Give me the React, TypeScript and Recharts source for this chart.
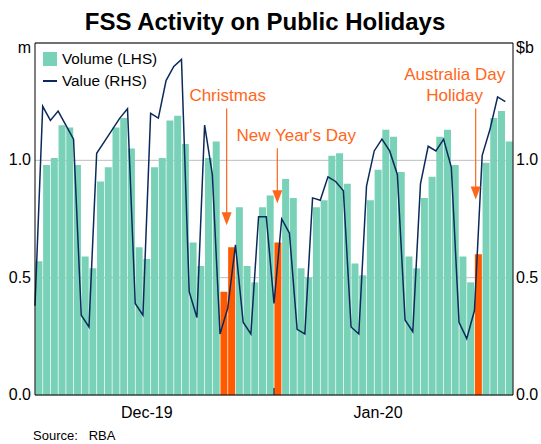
import {
  ComposedChart,
  Bar,
  Cell,
  Line,
  XAxis,
  YAxis,
  CartesianGrid,
  ReferenceLine,
} from 'recharts'

const DAYS = [
  '01-Dec', '02-Dec', '03-Dec', '04-Dec', '05-Dec', '06-Dec', '07-Dec', '08-Dec', '09-Dec', '10-Dec',
  '11-Dec', '12-Dec', '13-Dec', '14-Dec', '15-Dec', '16-Dec', '17-Dec', '18-Dec', '19-Dec', '20-Dec',
  '21-Dec', '22-Dec', '23-Dec', '24-Dec', '25-Dec', '26-Dec', '27-Dec', '28-Dec', '29-Dec', '30-Dec',
  '31-Dec', '01-Jan', '02-Jan', '03-Jan', '04-Jan', '05-Jan', '06-Jan', '07-Jan', '08-Jan', '09-Jan',
  '10-Jan', '11-Jan', '12-Jan', '13-Jan', '14-Jan', '15-Jan', '16-Jan', '17-Jan', '18-Jan', '19-Jan',
  '20-Jan', '21-Jan', '22-Jan', '23-Jan', '24-Jan', '25-Jan', '26-Jan', '27-Jan', '28-Jan', '29-Jan',
  '30-Jan', '31-Jan',
]

// volume, millions (LHS)
const VOLUME = [
  0.57, 0.98, 1.01, 1.15, 1.14, 0.98, 0.59, 0.54, 0.91, 0.97,
  1.14, 1.18, 1.05, 0.63, 0.58, 0.97, 1.01, 1.17, 1.19, 1.07,
  0.65, 0.55, 1.01, 1.08, 0.44, 0.63, 0.8, 0.55, 0.48, 0.8,
  0.85, 0.65, 0.92, 0.84, 0.54, 0.5, 0.8, 0.83, 1.02, 1.03,
  0.9, 0.56, 0.51, 0.83, 0.96, 1.13, 1.1, 0.95, 0.59, 0.54,
  0.84, 0.93, 1.1, 1.13, 0.98, 0.59, 0.48, 0.6, 0.99, 1.18,
  1.21, 1.08,
]

// value, $ billions (RHS)
const VALUE = [
  0.38, 1.23, 1.17, 1.21, 1.15, 1.09, 0.34, 0.29, 1.03, 1.08,
  1.13, 1.18, 1.22, 0.39, 0.34, 1.2, 1.18, 1.34, 1.4, 1.43,
  0.44, 0.33, 1.15, 0.94, 0.26, 0.37, 0.64, 0.31, 0.26, 0.76,
  0.76, 0.39, 0.75, 0.69, 0.28, 0.26, 0.84, 0.83, 0.93, 0.91,
  0.87, 0.29, 0.26, 0.89, 1.04, 1.09, 1.04, 0.94, 0.32, 0.27,
  0.9, 1.06, 1.04, 1.09, 0.97, 0.31, 0.24, 0.36, 1.02, 1.13,
  1.27, 1.25,
]

const HOLIDAYS = ['25-Dec', '26-Dec', '01-Jan', '27-Jan']

const MONTH_LABELS: Record<string, string> = {
  '15-Dec': 'Dec-19',
  '14-Jan': 'Jan-20',
}

const Y_TICKS = [0, 0.5, 1.0, 1.5]

const ANNOTATIONS = [
  { x: 24.86, top: 1.221, tip: 0.723, dx: 1, lines: ['Christmas'] },
  { x: 31.43, top: 1.051, tip: 0.817, dx: 19, lines: ["New Year's Day"] },
  { x: 57.16, top: 1.221, tip: 0.833, dx: -21, lines: ['Australia Day', 'Holiday'] },
]

const TEAL = '#79d2b8'
const HOLIDAY_ORANGE = '#ff5a00'
const TEXT_ORANGE = '#ff661a'
const NAVY = '#0b2a5b'
const FONT = '"Liberation Sans", Arial, sans-serif'

const data = DAYS.map((day, i) => ({
  day,
  idx: i,
  volume: VOLUME[i],
  value: VALUE[i],
}))

const yTick = (side: 'left' | 'right') => (props: any) => {
  const { x, y, payload } = props
  const v = payload.value as number
  let label = v.toFixed(1)
  if (v === 1.5) label = side === 'left' ? 'm' : '$b'
  return (
    <text
      x={x}
      y={y}
      dy={v === 1.5 ? 10 : 5}
      textAnchor={side === 'left' ? 'end' : 'start'}
      fontSize={16}
      fontFamily={FONT}
      fill="#000"
    >
      {label}
    </text>
  )
}

const xTick = (props: any) => {
  const { x, y, payload } = props
  const label = MONTH_LABELS[payload.value]
  if (!label) return <g />
  return (
    <text x={x} y={y} dy={15} textAnchor="middle" fontSize={16} fontFamily={FONT} fill="#000">
      {label}
    </text>
  )
}

const arrowShape = (lines: string[], dx: number) => (props: any) => {
  const { x1, y1, x2, y2 } = props
  const top = Math.min(y1, y2)
  const tip = Math.max(y1, y2)
  const headH = 13
  return (
    <g>
      <line x1={x1} y1={top} x2={x2} y2={tip - headH + 1} stroke={TEXT_ORANGE} strokeWidth={1.2} />
      <polygon
        points={`${x2 - 5},${tip - headH} ${x2 + 5},${tip - headH} ${x2},${tip}`}
        fill={TEXT_ORANGE}
      />
      {lines.map((t, i) => (
        <text
          key={t}
          x={x1 + dx}
          y={top - 7 - (lines.length - 1 - i) * 21}
          textAnchor="middle"
          fontSize={17}
          fontFamily={FONT}
          fill={TEXT_ORANGE}
        >
          {t}
        </text>
      ))}
    </g>
  )
}

const LegendBox = () => (
  <div
    style={{
      position: 'absolute',
      top: 48,
      left: 43,
      fontFamily: FONT,
      fontSize: 15.3,
      color: '#000',
      lineHeight: '22px',
    }}
  >
    <div style={{ display: 'flex', alignItems: 'center' }}>
      <span style={{ width: 14, height: 14, background: TEAL, marginRight: 5 }} />
      Volume (LHS)
    </div>
    <div style={{ display: 'flex', alignItems: 'center' }}>
      <span style={{ width: 14, height: 2, background: NAVY, marginRight: 5 }} />
      Value (RHS)
    </div>
  </div>
)

export default function App() {
  return (
    <div style={{ position: 'absolute', left: 0, top: 0, width: 541, height: 444, background: '#fff' }}>
      <div
        style={{
          position: 'absolute',
          top: 8,
          left: 0,
          width: 530,
          textAlign: 'center',
          fontFamily: FONT,
          fontWeight: 'bold',
          fontSize: 24,
        }}
      >
        FSS Activity on Public Holidays
      </div>
      <ComposedChart
        width={541}
        height={444}
        data={data}
        margin={{ top: 43, right: 0, left: 0, bottom: 19 }}
        barCategoryGap={0.4}
      >
        <CartesianGrid
          xAxisId="cat"
          yAxisId="l"
          vertical={false}
          stroke="#bfbfbf"
          strokeWidth={1}
        />
        <XAxis
          xAxisId="cat"
          dataKey="day"
          type="category"
          interval={0}
          tick={xTick}
          tickLine={false}
          axisLine={{ stroke: '#000' }}
          height={30}
        />
        <XAxis xAxisId="n" dataKey="idx" type="number" domain={[0, 62]} hide />
        <YAxis
          yAxisId="l"
          domain={[0, 1.5]}
          ticks={Y_TICKS}
          tick={yTick('left')}
          tickLine={false}
          tickSize={2}
          tickMargin={2}
          axisLine={{ stroke: '#000' }}
          width={35}
        />
        <YAxis
          yAxisId="r"
          orientation="right"
          domain={[0, 1.5]}
          ticks={Y_TICKS}
          tick={yTick('right')}
          tickLine={false}
          tickSize={1}
          tickMargin={2}
          axisLine={{ stroke: '#000' }}
          width={28}
        />
        <Bar xAxisId="cat" yAxisId="l" dataKey="volume" isAnimationActive={false}>
          {data.map((d) => (
            <Cell key={d.day} fill={HOLIDAYS.includes(d.day) ? HOLIDAY_ORANGE : TEAL} />
          ))}
        </Bar>
        <Line
          xAxisId="n"
          yAxisId="r"
          dataKey="value"
          type="linear"
          stroke={NAVY}
          strokeWidth={1.5}
          dot={false}
          activeDot={false}
          isAnimationActive={false}
        />
        <ReferenceLine xAxisId="cat" yAxisId="l" y={1.5} stroke="#000" />
        <ReferenceLine
          xAxisId="n"
          yAxisId="l"
          segment={[{ x: 31, y: 0 }, { x: 31, y: 0.03 }]}
          stroke="#000"
        />
        {ANNOTATIONS.map((a) => (
          <ReferenceLine
            key={a.lines[0]}
            xAxisId="n"
            yAxisId="l"
            segment={[{ x: a.x, y: a.top }, { x: a.x, y: a.tip }]}
            shape={arrowShape(a.lines, a.dx)}
          />
        ))}
      </ComposedChart>
      <LegendBox />
      <div
        style={{
          position: 'absolute',
          top: 428,
          left: 33,
          fontFamily: FONT,
          fontSize: 13,
          color: '#000',
          whiteSpace: 'pre',
        }}
      >
        {'Source:   RBA'}
      </div>
    </div>
  )
}
